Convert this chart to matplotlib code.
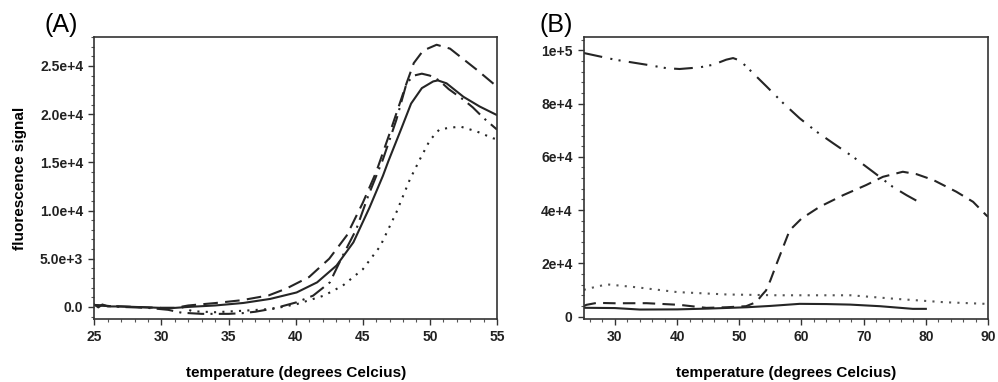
import numpy as np
import matplotlib.pyplot as plt
from matplotlib.ticker import MultipleLocator, FixedLocator, FixedFormatter

plt.rcParams['font.family'] = ['Liberation Sans', 'DejaVu Sans']

# ---- panel A data (temperature, fluorescence) ----
a_solid_t = [25, 25.3, 25.6, 26, 27, 28, 29, 30, 31, 32, 34, 36.1, 38.1, 40.07, 41.6, 43.05, 44.3,
             45.5, 46.5, 46.9, 47.9, 48.6, 49.4, 50.25, 50.6, 51.24, 52.5, 53.7, 55]
a_solid_v = [250, -50, 250, 50, 50, 0, -50, -100, -100, 0, 150, 410, 830, 1500, 2550, 4300, 6700,
             10300, 13600, 15100, 18600, 21100, 22700, 23400, 23500, 23200, 21800, 20800, 19900]

a_dash_t = [25, 26, 28, 30, 31, 32, 34, 36, 38, 39.3, 41, 42.5, 43.8, 45, 46, 47, 48.26, 48.8,
            49.5, 50.5, 51.5, 52.5, 53.5, 54.7, 55]
a_dash_v = [200, 100, 0, -100, -100, 150, 400, 700, 1200, 1900, 3100, 5000, 7400, 10800, 14000,
            18000, 23200, 25300, 26600, 27200, 26800, 25700, 24600, 23200, 22900]

a_dashdot_t = [25, 27, 29, 30.5, 31.5, 33, 35, 36, 37, 38, 38.8, 40.07, 41.3, 42.55, 43.5, 44.5,
               45.4, 46.5, 47.5, 48.26, 48.8, 49.4, 50.0, 50.7, 51.4, 52.5, 53.2, 54.0, 55]
a_dashdot_v = [200, 0, -100, -300, -600, -720, -720, -650, -500, -250, 0, 480, 1170, 2550, 5300, 8000,
               11500, 15300, 19400, 23200, 24000, 24200, 24000, 23500, 22600, 21500, 20700, 19600, 18400]

a_dot_t = [31.5, 32.3, 34, 36.3, 38.3, 40.1, 42.1, 43.5, 45.0, 46.3, 47.5, 48.5, 49.25, 50.0,
           50.7, 51.5, 52.3, 53.5, 54.7, 55]
a_dot_v = [0, -450, -550, -380, -200, 300, 1170, 2200, 3900, 6300, 9800, 13200, 15300, 17300,
           18400, 18600, 18700, 18200, 17500, 17400]

a_yticks = [0, 5000, 10000, 15000, 20000, 25000]
a_ylabels = ['0.0', '5.0e+3', '1.0e+4', '1.5e+4', '2.0e+4', '2.5e+4']
a_xticks = [25, 30, 35, 40, 45, 50, 55]

# ---- panel B data ----
b_solid_t = [25, 30, 34, 40, 45, 51.2, 55, 59.7, 64, 67.8, 72.6, 77.9, 80]
b_solid_v = [3300, 3200, 2640, 2700, 3000, 3500, 4000, 4780, 4700, 4500, 3900, 2900, 2900]

b_dash_t = [25, 25.4, 27.1, 30, 35.1, 40.4, 44.7, 48, 51.1, 52.7, 53.8, 54.3, 55, 56.0, 57.05,
            58.1, 60.0, 62.9, 66.7, 70.4, 73.1, 76.3, 78.5, 81.2, 84.9, 87.6, 89.7, 90]
b_dash_v = [3900, 4400, 5150, 5000, 5030, 4400, 3270, 3500, 3900, 5400, 8500, 9800, 13600, 19800,
            26100, 32400, 36800, 41200, 45600, 49400, 52500, 54400, 53500, 51300, 46900, 43100,
            38100, 37500]

b_dashdotdot_t = [25, 30, 35.1, 38.3, 40.4, 43.6, 45.8, 47.9, 49.0, 50.1, 51.4, 54.4, 57.05, 59.7,
                  62.4, 65.1, 68.3, 71.5, 74.7, 76.9, 79.3]
b_dashdotdot_v = [99000, 96500, 94600, 93300, 93000, 93600, 94600, 96500, 97100, 96200, 93300,
                  86400, 80200, 74500, 69500, 65100, 60000, 54400, 48700, 45600, 42500]

b_dot_t = [25, 25.5, 28.7, 33.5, 40, 48, 56.1, 67.9, 74.9, 82.9, 89.4, 90]
b_dot_v = [10000, 10400, 12100, 11000, 9200, 8300, 8000, 8000, 6700, 5400, 4800, 4700]

b_yticks = [0, 20000, 40000, 60000, 80000, 100000]
b_ylabels = ['0', '2e+4', '4e+4', '6e+4', '8e+4', '1e+5']
b_xticks = [30, 40, 50, 60, 70, 80, 90]

ink = '#252525'
lw = 1.5

fig = plt.figure(figsize=(9.98, 3.82), dpi=100)
axA = fig.add_axes([0.0945, 0.165, 0.4035, 0.738])
axB = fig.add_axes([0.585, 0.165, 0.405, 0.738])

axA.plot(a_solid_t, a_solid_v, color=ink, lw=lw, ls='-')
axA.plot(a_dash_t, a_dash_v, color=ink, lw=lw, ls=(0, (7, 3.5)))
axA.plot(a_dashdot_t, a_dashdot_v, color=ink, lw=lw, ls=(0, (8, 3, 1, 3)))
axA.plot(a_dot_t, a_dot_v, color=ink, lw=lw, ls=(0, (1, 3)))
axA.set_xlim(25, 55)
axA.set_ylim(-1250, 28000)
axA.yaxis.set_major_locator(FixedLocator(a_yticks))
axA.yaxis.set_major_formatter(FixedFormatter(a_ylabels))
axA.xaxis.set_major_locator(FixedLocator(a_xticks))
axA.xaxis.set_minor_locator(MultipleLocator(1))
axA.yaxis.set_minor_locator(MultipleLocator(1000))
axA.set_ylabel('fluorescence signal', fontsize=11, fontweight='bold', labelpad=9)
axA.set_xlabel('temperature (degrees Celcius)', fontsize=11, fontweight='bold', labelpad=16)
fig.text(0.045, 0.915, '(A)', fontsize=18)

axB.plot(b_solid_t, b_solid_v, color=ink, lw=lw, ls='-')
axB.plot(b_dash_t, b_dash_v, color=ink, lw=lw, ls=(0, (6, 3.5)))
axB.plot(b_dashdotdot_t, b_dashdotdot_v, color=ink, lw=lw, ls=(0, (9, 4, 1, 3, 1, 4)))
axB.plot(b_dot_t, b_dot_v, color='#555555', lw=lw, ls=(0, (1, 3)))
axB.set_xlim(25, 90)
axB.set_ylim(-900, 105000)
axB.yaxis.set_major_locator(FixedLocator(b_yticks))
axB.yaxis.set_major_formatter(FixedFormatter(b_ylabels))
axB.xaxis.set_major_locator(FixedLocator(b_xticks))
axB.xaxis.set_minor_locator(MultipleLocator(2))
axB.yaxis.set_minor_locator(MultipleLocator(4000))
axB.set_xlabel('temperature (degrees Celcius)', fontsize=11, fontweight='bold', labelpad=16)
fig.text(0.541, 0.915, '(B)', fontsize=18)

for ax in (axA, axB):
    for s in ax.spines.values():
        s.set_color('#333333')
        s.set_linewidth(1.2)
    ax.tick_params(which='major', direction='out', length=4, width=1, color='#333333',
                   labelsize=10, pad=4)
    ax.tick_params(which='minor', direction='out', length=2.5, width=0.8, color='#555555')
    for lab in ax.get_xticklabels() + ax.get_yticklabels():
        lab.set_fontweight('bold')
        lab.set_color('#222222')

plt.savefig('out.png', dpi=100)
